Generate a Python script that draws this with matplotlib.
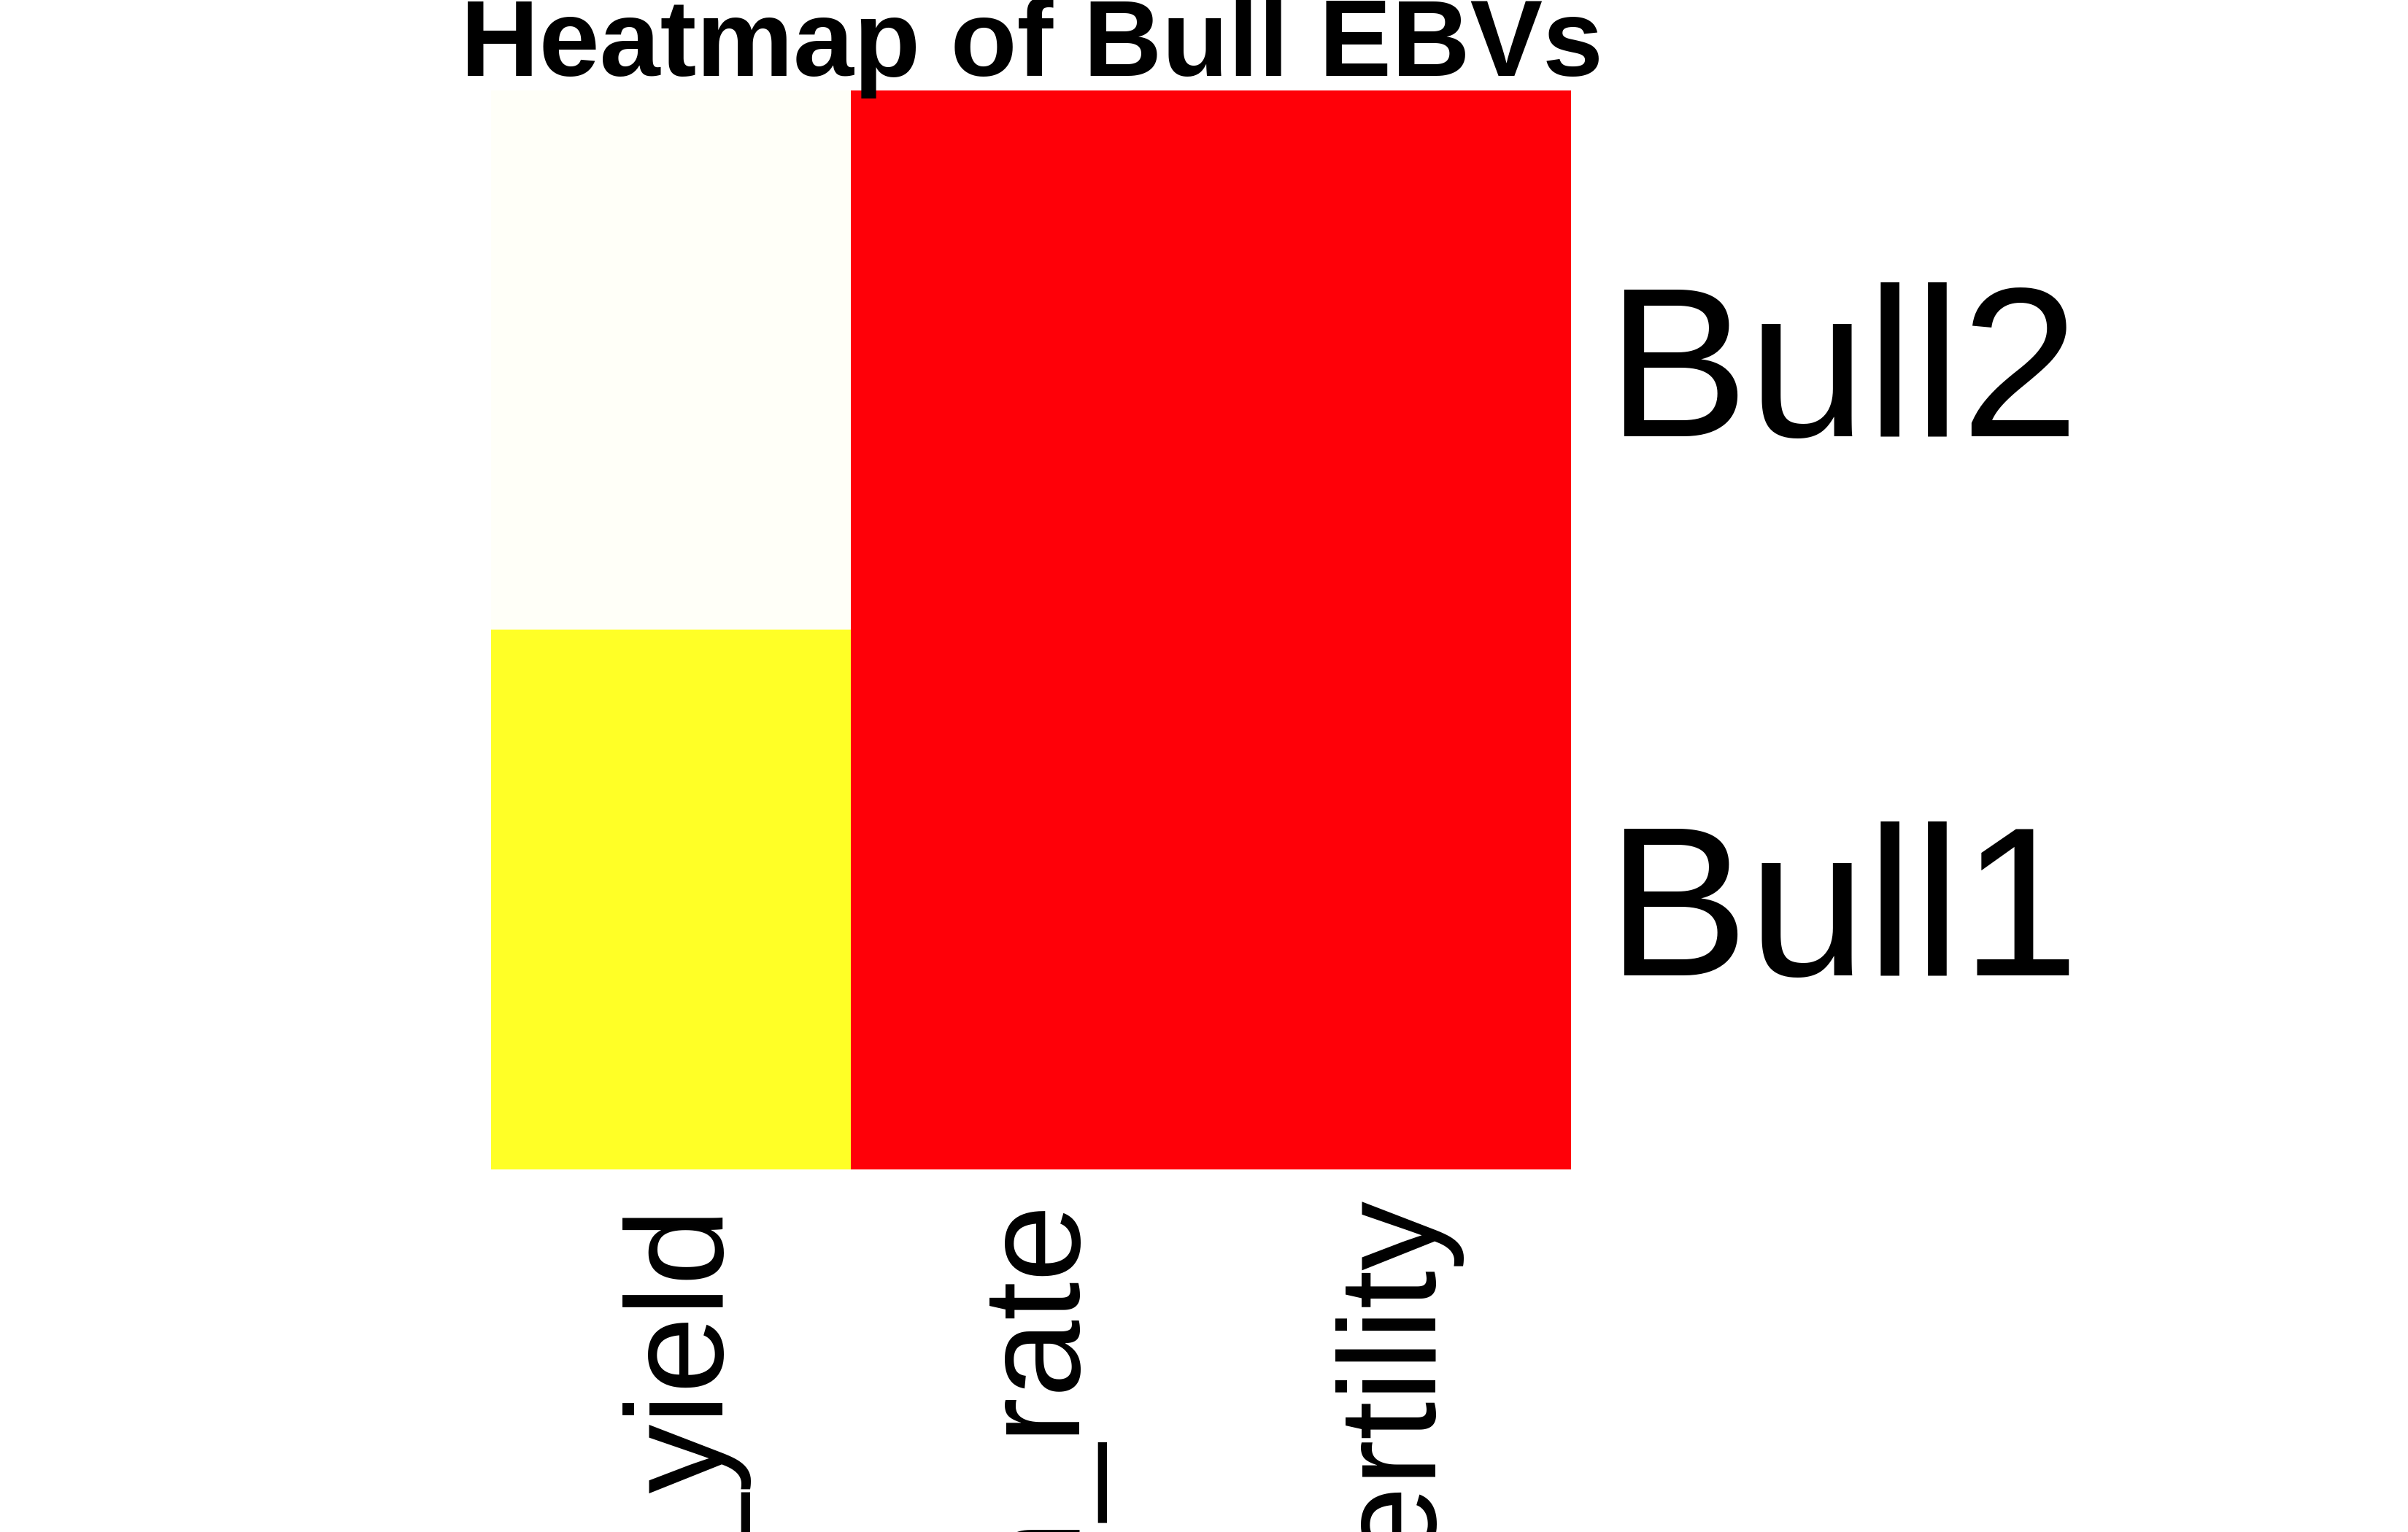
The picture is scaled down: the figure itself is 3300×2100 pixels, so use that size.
"""
Heatmap of bull EBVs (R-style base heatmap look, no dendrograms).
"""
import matplotlib
matplotlib.use("Agg")
import matplotlib.pyplot as plt
import numpy as np
from matplotlib.colors import LinearSegmentedColormap

# EBV table: rows bottom -> top like R's heatmap
bulls = ["Bull1", "Bull2"]
traits = ["milk_yield", "growth_rate", "fertility"]
milk_yield = [252.0, 320.0]
growth_rate = [0.8, 1.1]
fertility = [1.5, 2.0]

FONT = "Liberation Sans"
HEAT = LinearSegmentedColormap.from_list(
    "heat", [(0.0, "#FF0008"), (0.75, "#FFFF00"), (1.0, "#FFFFF8")])


def main():
    vals = np.column_stack([milk_yield, growth_rate, fertility])

    fig = plt.figure(figsize=(11, 7), dpi=300)
    ax = fig.add_axes([0.2039, 0.2367, 0.4485, 0.7043])
    ax.pcolormesh(np.arange(len(traits) + 1) - 0.5, np.arange(len(bulls) + 1) - 0.5,
                  vals, cmap=HEAT, vmin=vals.min(), vmax=vals.max(), shading="flat")
    ax.set_xlim(-0.5, len(traits) - 0.5)
    ax.set_ylim(-0.5, len(bulls) - 0.5)
    ax.axis("off")

    # column labels, rotated, hanging below the grid (clipped by the page edge)
    for j, t in enumerate(traits):
        ax.annotate(t, xy=(j, -0.5), xycoords="data", xytext=(2.4, -9.5),
                    textcoords="offset points", rotation=90, ha="center", va="top",
                    fontsize=45.6, family=FONT, annotation_clip=False)

    # row labels on the right
    for i, b in enumerate(bulls):
        ax.annotate(b, xy=(len(traits) - 0.5, i), xycoords="data", xytext=(11.5, -25),
                    textcoords="offset points", ha="left", va="baseline",
                    fontsize=70, family=FONT, annotation_clip=False)

    fig.text(0.4286, 1 - 104 / 2100, "Heatmap of Bull EBVs", ha="center", va="baseline",
             fontsize=35.8, fontweight="bold", family=FONT, zorder=10)

    fig.savefig("out.png", dpi=300, facecolor="white")
    plt.close(fig)


if __name__ == "__main__":
    main()
